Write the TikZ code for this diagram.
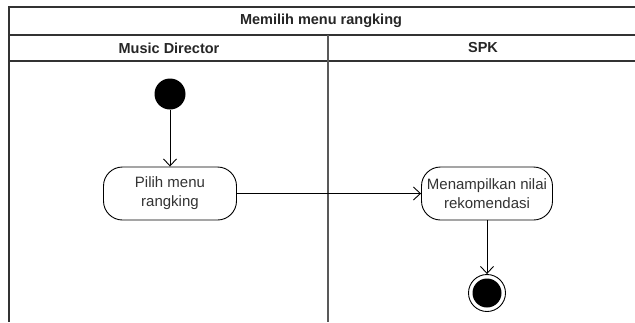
\documentclass[tikz,border=0pt]{standalone}
\usepackage{fontspec}
\setmainfont{Liberation Sans}
\usetikzlibrary{arrows.meta}
\begin{document}
\begin{tikzpicture}[x=1pt,y=-1pt,
  lane/.style={draw=black!80,line width=1.3pt},
  divider/.style={draw=black!65,line width=1.3pt},
  action/.style={draw=black,line width=0.9pt,rounded corners=19pt,minimum width=133pt,minimum height=53pt,align=center,font=\fontsize{15}{19}\selectfont,text=black!80,inner sep=0pt,fill=white},
  flow/.style={draw=black,line width=0.9pt,-{Straight Barb[length=7pt,width=13pt,line width=0.9pt]}},
  hdr/.style={font=\bfseries\fontsize{14.5}{16}\selectfont,text=black!85}
]
\useasboundingbox (0,0) rectangle (635,322);
\fill[white] (0,0) rectangle (635,322);
% swimlane frame
\draw[lane] (635,7) -- (9,7) -- (9,322);
\draw[lane] (9,35) -- (635,35);
\draw[lane] (9,61) -- (635,61);
\draw[divider] (328,35) -- (328,322);
\node[hdr] (title) at (321,21) {Memilih menu rangking};
\node[hdr] (md) at (169,48) {Music Director};
\node[hdr] (spk) at (483,48) {SPK};
% nodes
\node[circle,fill=black,minimum size=31pt,inner sep=0pt] (start) at (170,94) {};
\node[action] (pilih) at (170,193.5) {Pilih menu\\rangking};
\node[action,minimum width=131pt] (tampil) at (487,193.5) {Menampilkan nilai\\rekomendasi};
\node[circle,draw=black,line width=0.9pt,minimum size=37pt,inner sep=0pt,fill=white] (end) at (487,293) {};
\node[circle,fill=black,minimum size=29pt,inner sep=0pt] (endin) at (end.center) {};
% connectors
\draw[flow] (start) -- (pilih);
\draw[flow] (pilih) -- (tampil);
\draw[flow] (tampil) -- (end);
\end{tikzpicture}
\end{document}
